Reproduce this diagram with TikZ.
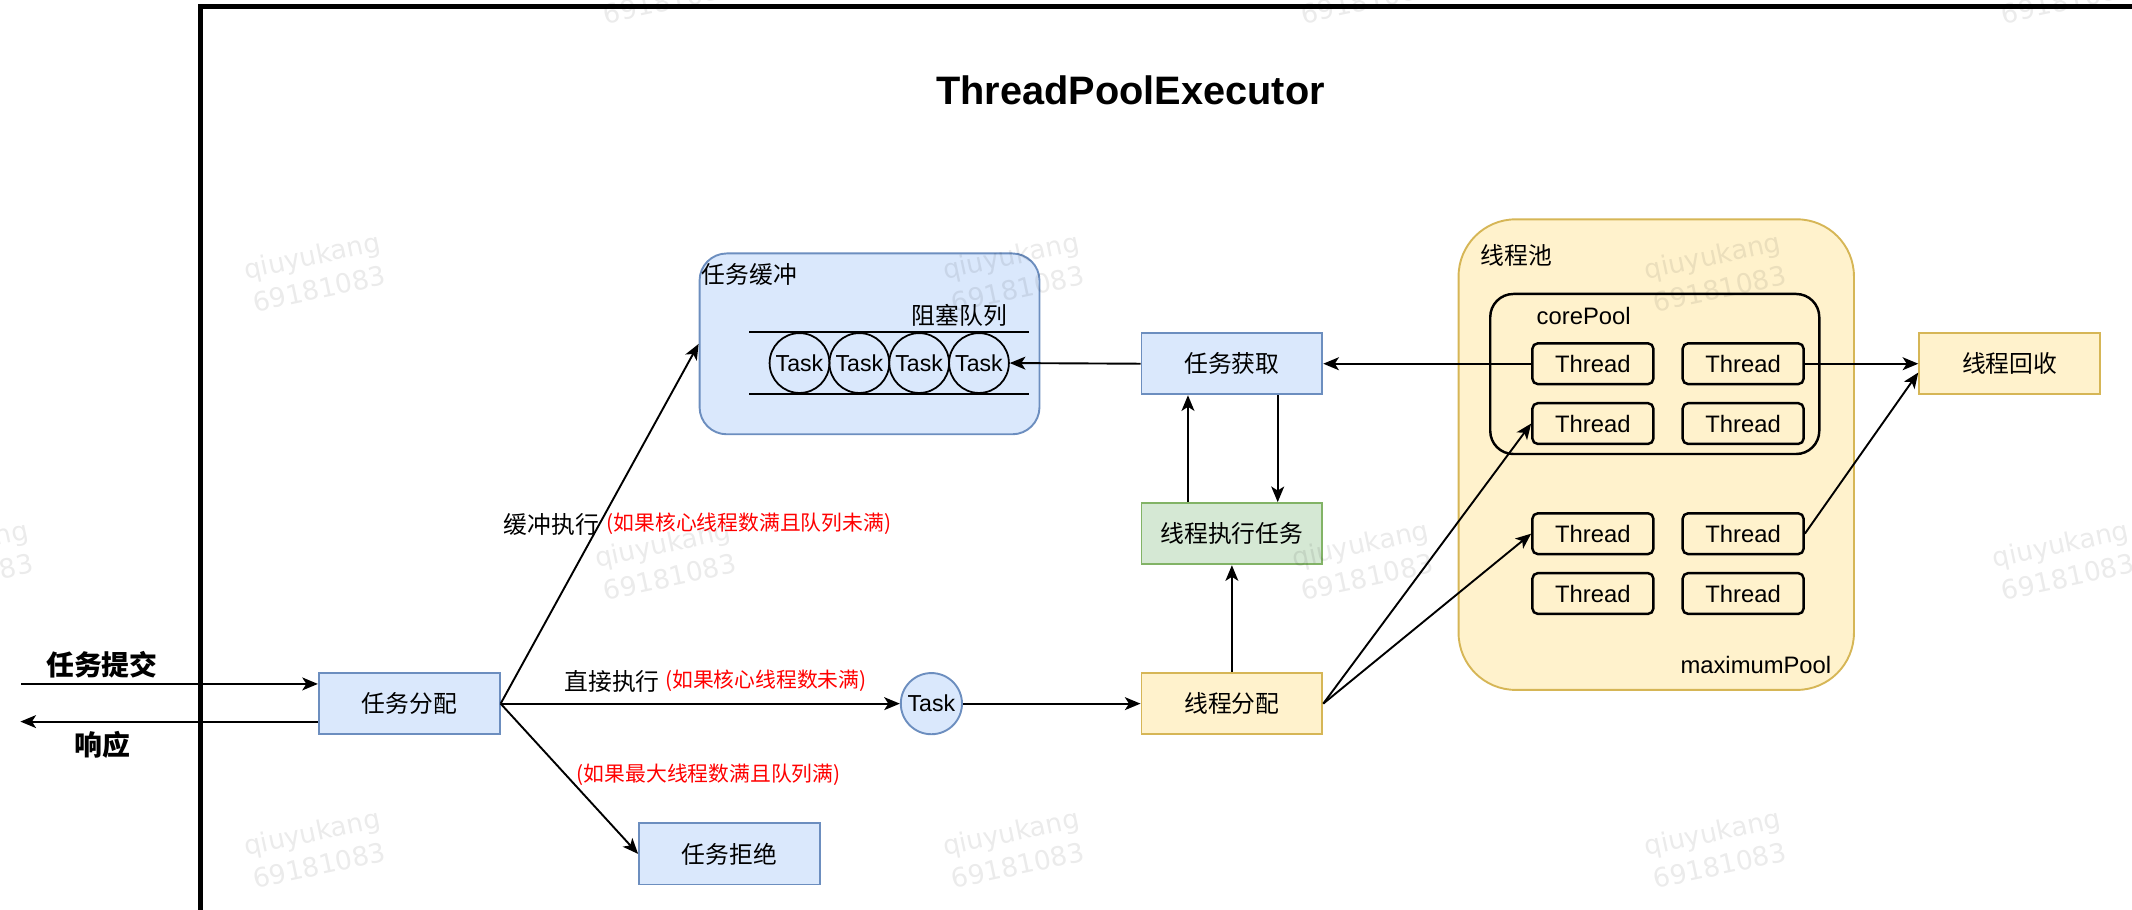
\documentclass[tikz,border=0pt]{standalone}
\usepackage{fontspec}
\setmainfont{Liberation Sans}
\newfontfamily\cjk{Noto Sans CJK SC}
\newfontfamily\wmfont{DejaVu Sans}
\usetikzlibrary{arrows.meta}
\definecolor{bfill}{HTML}{DAE8FC}
\definecolor{bdraw}{HTML}{6C8EBF}
\definecolor{gfill}{HTML}{D5E8D4}
\definecolor{gdraw}{HTML}{82B366}
\definecolor{yfill}{HTML}{FFF2CC}
\definecolor{ydraw}{HTML}{D6B656}
\definecolor{redtxt}{HTML}{FF0000}
\begin{document}
\begin{tikzpicture}[x=1pt,y=-1pt,
  box/.style={draw, line width=1.4pt, minimum width=133pt, minimum height=45pt, inner sep=0pt, font=\cjk\fontsize{17.5}{21}\selectfont},
  bluebox/.style={box, fill=bfill, draw=bdraw},
  greenbox/.style={box, fill=gfill, draw=gdraw},
  yellowbox/.style={box, fill=yfill, draw=ydraw},
  threadbox/.style={draw=black, fill=yfill, line width=1.8pt, rounded corners=4pt, minimum width=89pt, minimum height=30pt, inner sep=0pt, font=\fontsize{17.5}{21}\selectfont},
  taskcirc/.style={circle, draw=black, line width=1.3pt, minimum size=44pt, inner sep=0pt, font=\fontsize{17}{20}\selectfont},
  conn/.style={line width=1.4pt, -{Stealth[length=11.5pt,width=9.5pt,inset=3pt]}},
  lbl/.style={inner sep=0pt, font=\cjk\fontsize{17.5}{21}\selectfont},
  latlbl/.style={inner sep=0pt, font=\fontsize{17.5}{21}\selectfont},
  boldlbl/.style={inner sep=0pt, font=\cjk\bfseries\fontsize{20.5}{24}\selectfont},
  redlbl/.style={inner sep=0pt, text=redtxt, font=\cjk\fontsize{15.3}{18}\selectfont},
  wmark/.style={inner sep=0pt, align=center, rotate=12, text=black, text opacity=0.08, font=\wmfont\fontsize{19.5}{25}\selectfont}
]
\useasboundingbox (0,0) rectangle (1568,669.26);

% outer frame
\draw[line width=3.7pt, line join=miter] (147.8,690) -- (147.8,4.5) -- (1590,4.5);

% title
\node[inner sep=0pt, anchor=base, font=\bfseries\fontsize{29.2}{35}\selectfont] (title) at (831.5,77.2) {ThreadPoolExecutor};

% task buffer
\node[draw=bdraw, fill=bfill, line width=1.4pt, rounded corners=20pt, minimum width=250pt, minimum height=133pt, inner sep=0pt] (buffer) at (639.5,252.9) {};
\node[lbl, anchor=west] (buflbl) at (516,202) {任务缓冲};
\node[lbl] (queuelbl) at (705.5,231.7) {阻塞队列};
\coordinate (qtl) at (551,244);
\coordinate (qtr) at (757,244);
\coordinate (qbl) at (551,289.8);
\coordinate (qbr) at (757,289.8);
\draw[line width=1.4pt] (qtl) -- (qtr);
\draw[line width=1.4pt] (qbl) -- (qbr);
\node[taskcirc] (q1) at (588,267) {Task};
\node[taskcirc] (q2) at (632,267) {Task};
\node[taskcirc] (q3) at (676,267) {Task};
\node[taskcirc] (q4) at (720,267) {Task};

% main boxes
\node[bluebox] (alloc) at (301,517.5) {任务分配};
\node[bluebox] (reject) at (536.5,628) {任务拒绝};
\node[bluebox] (fetch) at (906,267.5) {任务获取};
\node[greenbox] (exec) at (906,392.5) {线程执行任务};
\node[yellowbox] (dist) at (906,517.5) {线程分配};
\node[circle, draw=bdraw, fill=bfill, line width=1.4pt, minimum size=45pt, inner sep=0pt, font=\fontsize{17}{20}\selectfont] (task) at (685,517.5) {Task};
\node[yellowbox] (recycle) at (1478,267.5) {线程回收};

% thread pool
\node[draw=ydraw, fill=yfill, line width=1.4pt, rounded corners=42pt, minimum width=290.8pt, minimum height=346.1pt, inner sep=0pt] (pool) at (1218.1,334.35) {};
\node[lbl, anchor=west] (poollbl) at (1089,187.5) {线程池};
\node[latlbl, anchor=east] (maxlbl) at (1347,489) {maximumPool};
\node[draw=black, line width=1.8pt, rounded corners=17pt, minimum width=242pt, minimum height=117.7pt, inner sep=0pt] (core) at (1217,275.05) {};
\node[latlbl, anchor=west] (corelbl) at (1130,232.4) {corePool};
\node[threadbox] (t11) at (1171.5,267.5) {Thread};
\node[threadbox] (t12) at (1282,267.5) {Thread};
\node[threadbox] (t21) at (1171.5,311.5) {Thread};
\node[threadbox] (t22) at (1282,311.5) {Thread};
\node[threadbox] (t31) at (1171.5,392.5) {Thread};
\node[threadbox] (t32) at (1282,392.5) {Thread};
\node[threadbox] (t41) at (1171.5,436.5) {Thread};
\node[threadbox] (t42) at (1282,436.5) {Thread};

% left side
\node[boldlbl] (sublbl) at (75,489) {任务提交};
\node[boldlbl] (resplbl) at (75.6,548) {响应};
\coordinate (subst) at (15.5,503);
\coordinate (respend) at (15,530.7);
\draw[conn] (subst) -- (subst -| alloc.west);
\draw[conn] (respend -| alloc.west) -- (respend);

% connectors
\draw[conn] (alloc.east) -- (buffer.west);
\draw[conn] (alloc.east) -- (task.west);
\draw[conn] (alloc.east) -- (reject.west);
\draw[conn] (task.east) -- (dist.west);
\draw[conn] (dist.north) -- (exec.south);
\draw[conn] ([xshift=-32.3pt]exec.north) -- ([xshift=-32.3pt]fetch.south);
\draw[conn] ([xshift=33.7pt]fetch.south) -- ([xshift=33.7pt]exec.north);
\draw[conn] (fetch.west) -- (q4.east);
\draw[conn] (t11.west) -- (fetch.east);
\draw[conn] (t12.east) -- (recycle.west);
\draw[conn] (t32.east) -- ([yshift=-6.5pt]recycle.west);
\draw[conn] (dist.east) -- (t21.west);
\draw[conn] (dist.east) -- (t31.west);

% connector labels
\node[lbl, anchor=west] (buflabel) at (370.4,385.5) {缓冲执行};
\node[redlbl, anchor=west] (bufcond) at (446,385.5) {(如果核心线程数满且队列未满)};
\node[lbl, anchor=west] (dirlabel) at (415,501) {直接执行};
\node[redlbl, anchor=west] (dircond) at (489,501) {(如果核心线程数未满)};
\node[redlbl, anchor=west] (rejcond) at (424,570) {(如果最大线程数满且队列满)};

% watermarks
\foreach \wx/\wy [count=\i] in {232/200, 746/200, 1262/200, -27/412, 490/412, 1003/412, 1518/412, 232/624, 746/624, 1262/624, 490/-12, 1003/-12, 1518/-12}
  \node[wmark] (wm\i) at (\wx,\wy) {qiuyukang\\69181083};
\end{tikzpicture}
\end{document}
